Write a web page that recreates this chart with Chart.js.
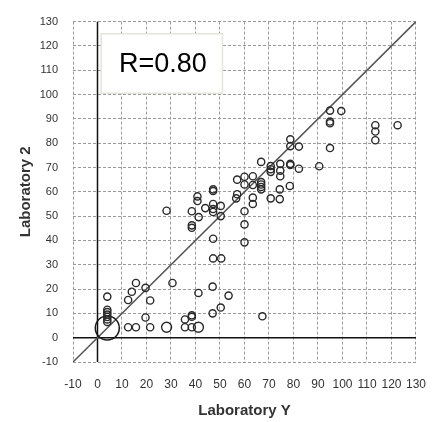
<!DOCTYPE html>
<html>
<head>
<meta charset="utf-8">
<script src="https://cdn.jsdelivr.net/npm/chart.js@4/dist/chart.umd.min.js"></script>
<style>
  body { margin: 0; background: #fff; }
  canvas { display: block; }
</style>
</head>
<body>
<canvas id="myChart" width="441" height="422"></canvas>
<script>
"use strict";

// axis range and ticks
var axisMin = -10;
var axisMax = 130;
var tickStep = 10;

// Laboratory Y (x) and Laboratory 2 (y) results
var labY = [4, 4, 4, 4, 4, 4, 4,
    12.5, 15.7, 21.5, 35.7, 38.5,
    19.6, 35.7, 38.5, 38.5, 47, 50.3, 53.5, 41.2, 47, 30.6, 19.6, 21.5, 12.5, 14, 15.7, 67.3,
    28.2, 38.5, 41.3, 38.5, 38.5, 40.8, 40.8, 44, 47.2, 47.2, 47.2, 47.2, 47.2, 50.3, 50.3,
    47.2, 47.2, 50.5, 57, 60, 60, 57, 56.6, 60, 60, 60, 63.4, 63.4, 63.4, 63.4,
    66.8, 66.8, 66.8, 66.8, 66.8, 70.7, 70.7, 70.7, 70.7, 74.6, 74.6, 74.6, 74.4, 74.4,
    78.5, 78.7, 78.7, 82.2, 90.5, 78.7, 78.7, 82.2, 94.9, 94.9, 99.5, 94.9, 94.9,
    113.4, 113.4, 113.4, 122.5];
var lab2 = [6.5, 7.5, 8.5, 9.5, 10.5, 11.5, 16.9,
    4.3, 4.3, 4.3, 4.3, 4.3,
    8.3, 7.5, 9.2, 8.6, 10, 12.4, 17.3, 18.4, 21, 22.5, 20.5, 15.3, 15.5, 18.9, 22.5, 8.8,
    52.2, 52, 49.6, 46.2, 45.2, 58.1, 56.2, 53.3, 61, 60.3, 55, 52.9, 51.7, 54.2, 50,
    40.7, 32.6, 32.6, 65, 66.2, 63, 59, 57.3, 52, 46.6, 39.2, 57.6, 55, 66.4, 62.8,
    64, 63, 62, 61, 72.3, 70.6, 69.3, 68.2, 57.3, 71.5, 68.7, 66.4, 61, 57,
    62.4, 71.5, 71, 69.5, 70.5, 81.6, 78.8, 78.6, 78, 93.4, 93.2, 88.9, 88.2,
    87.4, 84.8, 81.2, 87.4];

// the slightly larger circles and the big circle near the origin
var midY = [28.2, 41.2];
var mid2 = [4.3, 4.3];
var bigY = [4];
var big2 = [4];

var rText = "R=0.80";

function toPoints(xs, ys) {
    return xs.map(function (x, i) { return { x: x, y: ys[i] }; });
}

var fam = "'Liberation Sans', Arial, sans-serif";
var titleFont = { family: fam, size: 15, weight: 'bold' };

// white label box with the correlation
var rBoxPlugin = {
    id: 'rBox',
    beforeDatasetsDraw: function (chart) {
        var ctx = chart.ctx;
        var xs = chart.scales.x, ys = chart.scales.y;
        var x1 = xs.getPixelForValue(1.5), x2 = xs.getPixelForValue(51);
        var y1 = ys.getPixelForValue(125), y2 = ys.getPixelForValue(100.5);
        ctx.save();
        ctx.fillStyle = '#ffffff';
        ctx.fillRect(x1, y1, x2 - x1, y2 - y1);
        ctx.strokeStyle = '#e4e4da';
        ctx.lineWidth = 1.5;
        ctx.strokeRect(x1, y1, x2 - x1, y2 - y1);
        ctx.fillStyle = '#000';
        ctx.font = "27px " + fam;
        ctx.textAlign = 'center';
        ctx.textBaseline = 'middle';
        ctx.fillText(rText, (x1 + x2) / 2 + 1, (y1 + y2) / 2 + 1);
        ctx.restore();
    }
};

var ctx = document.getElementById('myChart').getContext('2d');
var myChart = new Chart(ctx, {
    type: 'scatter',
    data: {
        datasets: [{
            label: 'samples',
            data: toPoints(labY, lab2),
            pointRadius: 3.6,
            pointBorderWidth: 1.4,
            pointBorderColor: '#2a2a2a',
            pointBackgroundColor: 'rgba(0,0,0,0)',
            order: 1
        }, {
            label: 'mid',
            data: toPoints(midY, mid2),
            pointRadius: 5,
            pointBorderWidth: 1.4,
            pointBorderColor: '#2a2a2a',
            pointBackgroundColor: 'rgba(0,0,0,0)',
            order: 1
        }, {
            label: 'big',
            data: toPoints(bigY, big2),
            pointRadius: 12,
            pointBorderWidth: 1.5,
            pointBorderColor: '#1a1a1a',
            pointBackgroundColor: 'rgba(0,0,0,0)',
            order: 1
        }, {
            label: 'identity',
            type: 'line',
            data: toPoints([axisMin, axisMax], [axisMin, axisMax]),
            borderColor: '#555',
            borderWidth: 1.5,
            pointRadius: 0,
            order: 2
        }, {
            label: 'x0',
            type: 'line',
            data: toPoints([0, 0], [axisMin, axisMax]),
            borderColor: '#111',
            borderWidth: 1.5,
            pointRadius: 0,
            order: 3
        }, {
            label: 'y0',
            type: 'line',
            data: toPoints([axisMin, axisMax], [0, 0]),
            borderColor: '#111',
            borderWidth: 1.5,
            pointRadius: 0,
            order: 3
        }]
    },
    options: {
        responsive: false,
        animation: false,
        layout: { padding: { top: 16, right: 13, left: 0, bottom: 0 } },
        plugins: {
            legend: { display: false },
            tooltip: { enabled: false }
        },
        scales: {
            x: {
                type: 'linear',
                min: axisMin,
                max: axisMax,
                afterFit: function (scale) { scale.height = 60; },
                border: { display: false, dash: [3, 2] },
                grid: { color: '#9a9a9a', lineWidth: 1, drawTicks: false },
                ticks: { stepSize: tickStep, padding: 15, color: '#333', autoSkip: false,
                    maxRotation: 0, minRotation: 0, font: { family: fam, size: 12 } },
                title: { display: true, text: 'Laboratory Y', color: '#333', font: titleFont, padding: { top: 0, bottom: 2 } }
            },
            y: {
                type: 'linear',
                min: axisMin,
                max: axisMax,
                afterFit: function (scale) { scale.width = 73; },
                border: { display: false, dash: [3, 2] },
                grid: { color: '#9a9a9a', lineWidth: 1, drawTicks: false },
                ticks: { stepSize: tickStep, padding: 15, color: '#333', autoSkip: false, font: { family: fam, size: 11 } },
                title: { display: true, text: 'Laboratory 2', color: '#333', font: titleFont, padding: { top: 17, bottom: 0 } }
            }
        }
    },
    plugins: [rBoxPlugin]
});
</script>
</body>
</html>
